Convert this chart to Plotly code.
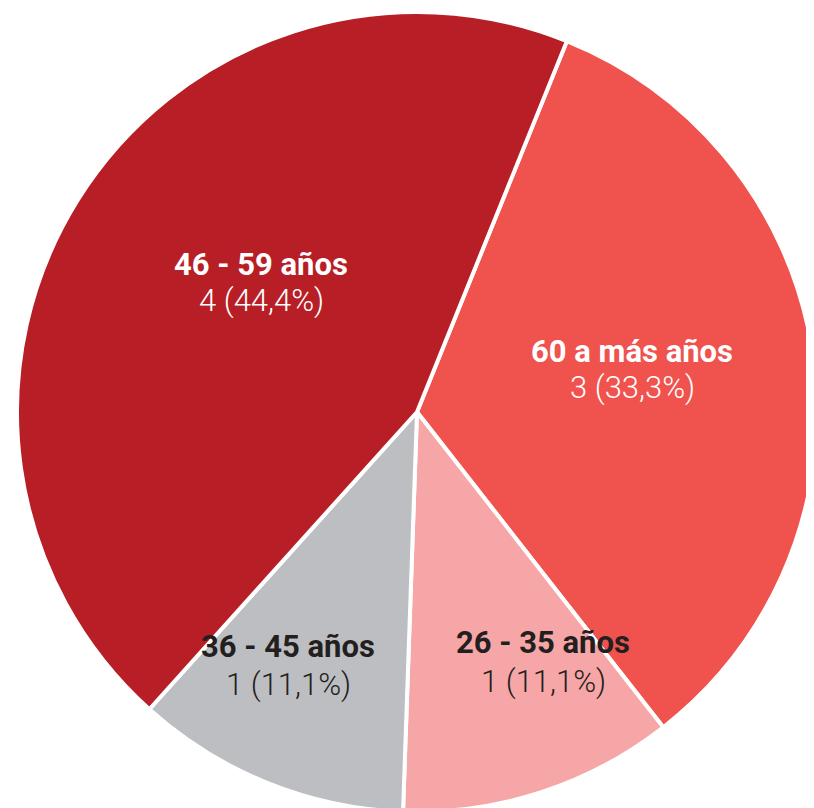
import plotly.graph_objects as go

categories = ["60 a más años", "26 - 35 años", "36 - 45 años", "46 - 59 años"]
values = [3, 1, 1, 4]
pct_labels = ["33,3%", "11,1%", "11,1%", "44,4%"]
colors = ["#F0524E", "#F6A6A6", "#BDBEC2", "#B71E25"]
text_colors = ["#FFFFFF", "#231F20", "#231F20", "#FFFFFF"]
# (x, y of title line, y of value line) in page pixels
label_pos = [(632, 352, 387), (543, 642, 681), (288, 646, 684), (261, 264, 300)]

W, H = 814, 808
OFF = 8  # body margin of the html page
CX, CY, R = 417 - OFF, 412 - OFF, 400

fig = go.Figure(go.Pie(
    labels=categories, values=values, sort=False, direction="clockwise",
    rotation=22, marker=dict(colors=colors, line=dict(color="white", width=4)),
    textinfo="none", hoverinfo="label+value+percent",
    domain=dict(x=[(CX - R) / W, (CX + R) / W],
                y=[(H - CY - R) / H, (H - CY + R) / H]),
    showlegend=False,
))

for cat, v, p, tc, (px, py1, py2) in zip(categories, values, pct_labels, text_colors, label_pos):
    fig.add_annotation(
        x=(px - OFF) / W, y=1 - (py1 - OFF) / H, xref="paper", yref="paper",
        text=f"<b>{cat}</b>", showarrow=False,
        font=dict(family="Roboto", size=31, color=tc),
        xanchor="center", yanchor="middle",
    )
    fig.add_annotation(
        x=(px - OFF) / W, y=1 - (py2 - OFF) / H, xref="paper", yref="paper",
        text=f"{v} ({p})", showarrow=False,
        font=dict(family="Roboto", size=31, color=tc, weight=300),
        xanchor="center", yanchor="middle",
    )

fig.update_layout(width=W, height=H, margin=dict(l=0, r=0, t=0, b=0),
                  paper_bgcolor="white", plot_bgcolor="white")
fig.write_html("out.html")
